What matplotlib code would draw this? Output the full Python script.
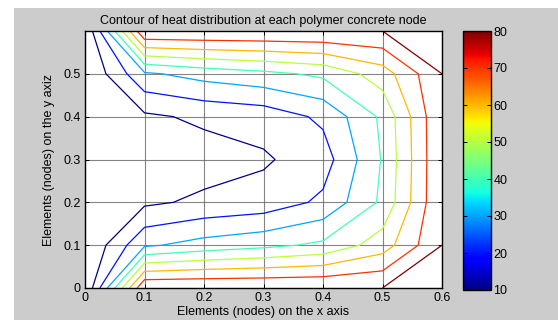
import numpy as np
import matplotlib
matplotlib.use("Agg")
import matplotlib.pyplot as plt
from matplotlib import colors, cm
from matplotlib.patches import Rectangle

# ---- data (node temperatures) ----
x_nodes = [0.0, 0.1, 0.2, 0.3, 0.4, 0.5, 0.6]
y_nodes = [0.0, 0.1, 0.2, 0.3, 0.4, 0.5, 0.6]
temp_y00 = [0, 80, 80, 80, 80, 80, 82]
temp_y01 = [0, 28.4, 33.8, 37.4, 42.0, 55.0, 80]
temp_y02 = [0, 8.2, 11.9, 14.0, 22.0, 42.0, 80]
temp_y03 = [0, 3.3, 5.6, 8.7, 15.4, 40.8, 80]
temp_y04 = [0, 8.2, 11.9, 14.0, 22.0, 42.0, 80]
temp_y05 = [0, 28.4, 33.8, 37.4, 42.0, 55.0, 80]
temp_y06 = [0, 80, 80, 80, 80, 80, 82]
levels = [10, 20, 30, 40, 50, 60, 70, 80]
x_ticks = [0, 0.1, 0.2, 0.3, 0.4, 0.5, 0.6]
x_ticklabels = ["0", "0.1", "0.2", "0.3", "0.4", "0.5", "0.6"]
y_ticks = [0, 0.1, 0.2, 0.3, 0.4, 0.5]
y_ticklabels = ["0", "0.1", "0.2", "0.3", "0.4", "0.5"]
cbar_ticks = [10, 20, 30, 40, 50, 60, 70, 80]

plt.rcParams["font.family"] = ["Liberation Sans", "DejaVu Sans"]

W, H = 558, 320
fig = plt.figure(figsize=(W / 100, H / 100), dpi=100, facecolor="white")
fig.patches.append(Rectangle((14 / W, 0), 1 - 14 / W, 1 - 8 / H,
                             transform=fig.transFigure, facecolor="#cccccc",
                             edgecolor="none", zorder=-10))

ax = fig.add_axes([85 / W, 32 / H, 357 / W, 257 / H])
ax.set_facecolor("white")

X, Y = np.meshgrid(x_nodes, y_nodes)
Z = np.array([temp_y00, temp_y01, temp_y02, temp_y03, temp_y04, temp_y05, temp_y06])
norm = colors.Normalize(vmin=10, vmax=80)
cs = ax.contour(X, Y, Z, levels=levels, cmap="jet", norm=norm, linewidths=0.9, zorder=3)

ax.set_xlim(0, 0.6)
ax.set_ylim(0, 0.6)
ax.set_xticks(x_ticks)
ax.set_xticklabels(x_ticklabels)
ax.set_yticks(y_ticks)
ax.set_yticklabels(y_ticklabels)
ax.tick_params(direction="in", top=True, right=True, length=3, width=0.7,
               labelsize=9, pad=3)
ax.grid(True, color="0.4", linewidth=0.8, alpha=0.8, zorder=1)
ax.set_axisbelow(True)
for s in ax.spines.values():
    s.set_linewidth(1.0)
    s.set_color("black")
    s.set_zorder(5)

ax.set_title("Contour of heat distribution at each polymer concrete node",
             fontsize=9, pad=5)
ax.set_xlabel("Elements (nodes) on the x axis", fontsize=9, labelpad=1)
ax.set_ylabel("Elements (nodes) on the y axiz", fontsize=9, labelpad=6)

cax = fig.add_axes([463 / W, 30 / H, 27.5 / W, 259 / H])
sm = cm.ScalarMappable(norm=norm, cmap="jet")
cb = fig.colorbar(sm, cax=cax)
cb.set_ticks(cbar_ticks)
cb.ax.tick_params(direction="in", left=True, right=True, length=3, width=0.7,
                  labelsize=9, pad=2)
cb.outline.set_linewidth(1.0)

fig.savefig("out.png", dpi=100, facecolor=fig.get_facecolor())
